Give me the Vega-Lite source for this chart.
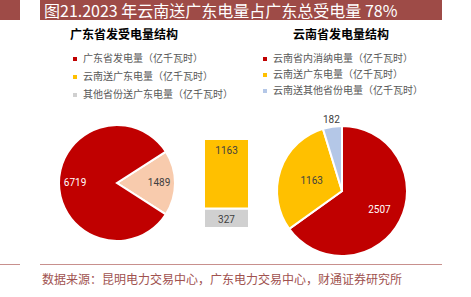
{
  "$schema": "https://vega.github.io/schema/vega-lite/v6.json",
  "padding": 0,
  "spacing": 0,
  "config": {"view": {"stroke": null}, "font": "Noto Sans CJK SC"},
  "vconcat": [
    {
      "spacing": 20,
      "hconcat": [
        {"width": 20, "height": 20, "view": {"fill": "#9E4B47", "stroke": null}, "data": {"values": []}, "mark": "point"},
        {"width": 402, "height": 20, "view": {"fill": "#9E4B47", "stroke": null}, "data": {"values": []}, "mark": "point",
          "title": {"text": "图21.2023 年云南送广东电量占广东总受电量 78%", "anchor": "start", "orient": "top", "offset": -19.5, "dx": 4, "color": "#FFFFFF", "fontSize": 16, "fontWeight": "normal", "font": "Noto Sans CJK SC"}}
      ]
    },
    {
      "width": 471,
      "height": 244,
      "layer": [
        {
          "data": {"values": [
            {"pie": "广东省", "item": "广东省受电量", "value": 1489, "o": 1},
            {"pie": "广东省", "item": "广东省发电量", "value": 6719, "o": 2}
          ]},
          "encoding": {
            "x": {"field": "pie", "type": "nominal", "scale": {"type": "point", "domain": ["广东省", "云南省"], "range": [117, 342], "padding": 0}, "axis": null},
            "y": {"field": "pie", "type": "nominal", "scale": {"type": "point", "domain": ["广东省", "云南省"], "range": [163, 171], "padding": 0}, "axis": null},
            "theta": {"field": "value", "type": "quantitative", "stack": true, "scale": {"range": [1.0009, 7.2841]}},
            "order": {"field": "o", "type": "quantitative"},
            "detail": {"field": "item", "type": "nominal"}
          },
          "layer": [
            {"mark": {"type": "arc", "outerRadius": 58, "stroke": "#FFFFFF", "strokeWidth": 2},
              "encoding": {"color": {"field": "item", "type": "nominal", "scale": {"domain": ["广东省发电量", "广东省受电量"], "range": ["#C00000", "#F8CBAD"]}, "legend": null}}},
            {"mark": {"type": "text", "radius": 42, "fontSize": 10, "font": "Roboto"},
              "encoding": {
                "text": {"field": "value", "type": "quantitative"},
                "color": {"condition": {"test": "datum.item === '广东省发电量'", "value": "#FFFFFF"}, "value": "#404040"}
              }}
          ]
        },
        {
          "data": {"values": [
            {"bar": "广东省受电量", "item": "其他省份送广东电量", "value": 327, "o": 1},
            {"bar": "广东省受电量", "item": "云南送广东电量", "value": 1163, "o": 2}
          ]},
          "encoding": {
            "x": {"field": "bar", "type": "nominal", "scale": {"type": "band", "range": [204, 249], "paddingInner": 0, "paddingOuter": 0}, "axis": null},
            "y": {"field": "value", "type": "quantitative", "stack": "zero", "scale": {"domain": [0, 1490], "range": [208, 119], "nice": false, "zero": true}, "axis": null},
            "order": {"field": "o", "type": "quantitative"},
            "detail": {"field": "item", "type": "nominal"}
          },
          "layer": [
            {"mark": {"type": "bar", "stroke": "#FFFFFF", "strokeWidth": 2},
              "encoding": {"color": {"field": "item", "type": "nominal",
                "scale": {"domain": ["广东省发电量", "云南送广东电量", "其他省份送广东电量"], "range": ["#C00000", "#FFC000", "#D0D0D0"]},
                "legend": {"orient": "none", "legendX": 70, "legendY": 10, "title": "广东省发受电量结构", "titleAnchor": "start",
                  "titleFontSize": 12, "titleFontWeight": "bold", "titleColor": "#000000", "titleFont": "Noto Sans CJK SC", "titlePadding": 12,
                  "labelFont": "Noto Sans CJK SC", "labelFontSize": 10, "labelColor": "#595959", "labelLimit": 300, "labelOffset": 3,
                  "symbolType": "square", "symbolSize": 16, "symbolStrokeWidth": 0, "rowPadding": 8,
                  "labelExpr": "datum.label + '（亿千瓦时）'"}}}},
            {"mark": {"type": "text", "baseline": "middle", "dy": 12, "fontSize": 10, "font": "Roboto", "color": "#404040"},
              "encoding": {"text": {"field": "value", "type": "quantitative"}}}
          ]
        },
        {
          "data": {"values": [
            {"pie": "云南省", "item": "云南省内消纳电量", "value": 2507, "o": 1},
            {"pie": "云南省", "item": "云南送广东电量", "value": 1163, "o": 2},
            {"pie": "云南省", "item": "云南送其他省份电量", "value": 182, "o": 3}
          ]},
          "encoding": {
            "x": {"field": "pie", "type": "nominal", "scale": {"type": "point", "domain": ["广东省", "云南省"], "range": [117, 342], "padding": 0}, "axis": null},
            "y": {"field": "pie", "type": "nominal", "scale": {"type": "point", "domain": ["广东省", "云南省"], "range": [163, 171], "padding": 0}, "axis": null},
            "theta": {"field": "value", "type": "quantitative", "stack": true},
            "order": {"field": "o", "type": "quantitative"},
            "detail": {"field": "item", "type": "nominal"}
          },
          "layer": [
            {"mark": {"type": "arc", "outerRadius": 65, "stroke": "#FFFFFF", "strokeWidth": 2},
              "encoding": {"color": {"field": "item", "type": "nominal",
                "scale": {"domain": ["云南省内消纳电量", "云南送广东电量", "云南送其他省份电量"], "range": ["#C00000", "#FFC000", "#B4C7E7"]},
                "legend": {"orient": "none", "legendX": 260, "legendY": 10, "title": "云南省发电量结构", "titleAnchor": "middle",
                  "titleFontSize": 12, "titleFontWeight": "bold", "titleColor": "#000000", "titleFont": "Noto Sans CJK SC", "titlePadding": 12,
                  "labelFont": "Noto Sans CJK SC", "labelFontSize": 10, "labelColor": "#595959", "labelLimit": 300, "labelOffset": 3,
                  "symbolType": "square", "symbolSize": 16, "symbolStrokeWidth": 0, "rowPadding": 6,
                  "labelExpr": "datum.label + '（亿千瓦时）'"}}}},
            {"mark": {"type": "text", "radius": 42, "fontSize": 10, "font": "Roboto", "color": "#FFFFFF"},
              "encoding": {"text": {"condition": {"test": "datum.item === '云南省内消纳电量'", "field": "value", "type": "quantitative"}, "value": ""}}},
            {"mark": {"type": "text", "radius": 32, "fontSize": 10, "font": "Roboto", "color": "#404040"},
              "encoding": {"text": {"condition": {"test": "datum.item === '云南送广东电量'", "field": "value", "type": "quantitative"}, "value": ""}}},
            {"mark": {"type": "text", "radius": 72, "fontSize": 10, "font": "Roboto", "color": "#404040"},
              "encoding": {"text": {"condition": {"test": "datum.item === '云南送其他省份电量'", "field": "value", "type": "quantitative"}, "value": ""}}}
          ]
        }
      ],
      "resolve": {"scale": {"x": "independent", "y": "independent", "theta": "independent", "color": "independent"}, "legend": {"color": "independent"}}
    },
    {
      "spacing": 20,
      "hconcat": [
        {"width": 20, "height": 1, "view": {"fill": "#C8908D", "stroke": null}, "data": {"values": []}, "mark": "point"},
        {"width": 402, "height": 1, "view": {"fill": "#C8908D", "stroke": null}, "data": {"values": []}, "mark": "point",
          "title": {"text": "数据来源：昆明电力交易中心，广东电力交易中心，财通证券研究所", "orient": "bottom", "anchor": "start", "offset": 10, "dx": 2, "fontSize": 12, "fontWeight": "normal", "color": "#A0524F", "font": "Noto Sans CJK SC"}}
      ]
    }
  ]
}
